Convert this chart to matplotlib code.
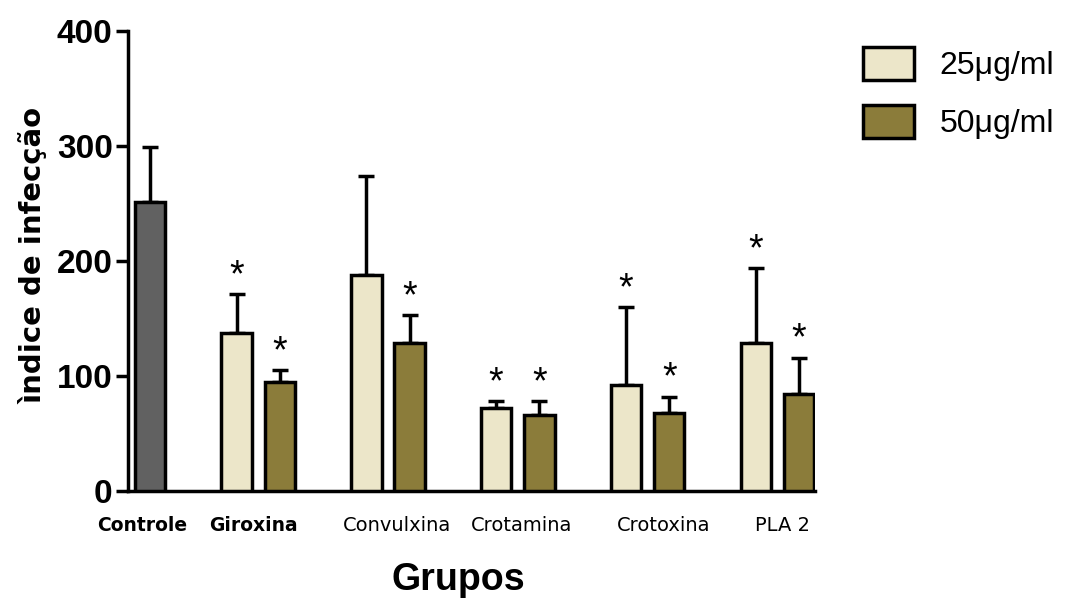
import matplotlib
matplotlib.use("Agg")
import matplotlib.pyplot as plt
from matplotlib.patches import Patch

plt.rcParams['font.family'] = ['Liberation Sans', 'DejaVu Sans']

# data
groups = ["Giroxina", "Convulxina", "Crotamina", "Crotoxina", "PLA 2"]
controle_mean = 251
controle_err = 299
mean_25 = [137, 188, 72, 92, 129]
top_25 = [171, 274, 78, 160, 194]
mean_50 = [95, 129, 66, 68, 84]
top_50 = [105, 153, 78, 82, 116]
star_25 = [True, False, True, True, True]
star_50 = [True, True, True, True, True]
legend_labels = ["25\u03bcg/ml", "50\u03bcg/ml"]

c_ctrl = "#616161"
c_25 = "#ECE6C9"
c_50 = "#8B7C3A"

fig = plt.figure(figsize=(10.76, 6.01), dpi=100)
ax = fig.add_axes([128 / 1076, 1 - 491 / 601, (815 - 128) / 1076, 460 / 601])

w = 0.7
lw = 2.5
x25 = [g * 3 for g in range(len(groups))]
x50 = [g * 3 + 1 for g in range(len(groups))]

ax.bar([-2], [controle_mean], width=w, color=c_ctrl, edgecolor="black", linewidth=lw, zorder=3)
ax.bar(x25, mean_25, width=w, color=c_25, edgecolor="black", linewidth=lw, zorder=3)
ax.bar(x50, mean_50, width=w, color=c_50, edgecolor="black", linewidth=lw, zorder=3)

err_kw = dict(fmt="none", ecolor="black", elinewidth=lw, capsize=6, capthick=lw, zorder=2)
ax.errorbar([-2], [controle_mean], yerr=[[0], [controle_err - controle_mean]], **err_kw)
ax.errorbar(x25, mean_25, yerr=[[0] * 5, [t - m for t, m in zip(top_25, mean_25)]], **err_kw)
ax.errorbar(x50, mean_50, yerr=[[0] * 5, [t - m for t, m in zip(top_50, mean_50)]], **err_kw)

for x, t, s in zip(x25 + x50, top_25 + top_50, star_25 + star_50):
    if s:
        ax.annotate("*", (x, t), xytext=(0, 13), textcoords="offset points",
                    ha="center", va="center", fontsize=27)

ax.set_xlim(-2.51, 13.37)
ax.set_ylim(0, 400)
ax.set_yticks([0, 100, 200, 300, 400])
ax.tick_params(axis="y", length=9, width=lw, labelsize=24, pad=2)
for lab in ax.get_yticklabels():
    lab.set_fontweight("bold")
ax.tick_params(axis="x", length=0, pad=18)
ax.set_xticks([-2.19, 0.38, 3.7, 6.58, 9.86, 12.63])
ax.set_xticklabels(["Controle"] + groups, fontsize=14, family="DejaVu Sans")
for lab in ax.get_xticklabels()[:2]:
    lab.set_fontweight("bold")
    lab.set_fontsize(13.5)

for sp in ["top", "right"]:
    ax.spines[sp].set_visible(False)
for sp in ["left", "bottom"]:
    ax.spines[sp].set_linewidth(lw)

fig.text(33 / 1076, 1 - 255 / 601, "\u00ecndice de infec\u00e7\u00e3o", rotation=90,
         ha="center", va="center", fontsize=21, fontweight="bold", family="DejaVu Sans")
fig.text(458 / 1076, 1 - 580 / 601, "Grupos", ha="center", va="center",
         fontsize=27, fontweight="bold")

handles = [Patch(facecolor=c_25, edgecolor="black", linewidth=lw),
           Patch(facecolor=c_50, edgecolor="black", linewidth=lw)]
fig.legend(handles, legend_labels, loc="upper left", bbox_to_anchor=(863 / 1076, 1 - 47 / 601),
           frameon=False, fontsize=23, handlelength=1.6, handleheight=1.2,
           labelspacing=0.75, handletextpad=0.8, borderpad=0, borderaxespad=0)

fig.savefig("out.png", dpi=100)
